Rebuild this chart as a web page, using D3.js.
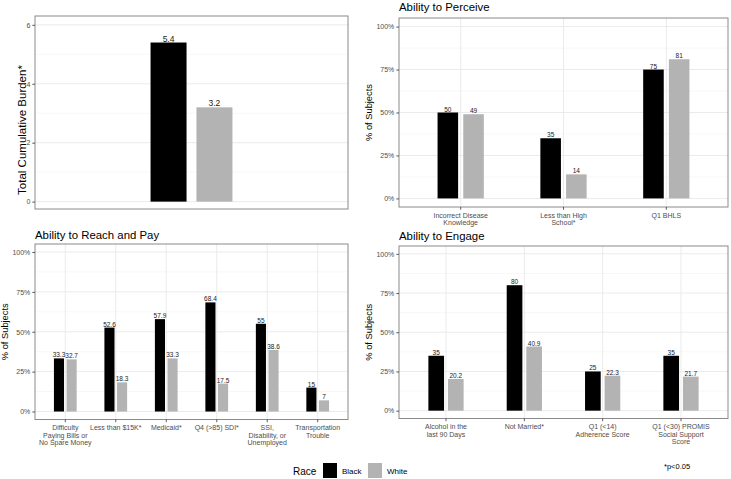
<!DOCTYPE html>
<html><head><meta charset="utf-8">
<script src="https://cdn.jsdelivr.net/npm/d3@7"></script>
<style>body{margin:0;background:#fff}svg{display:block;font-family:"Liberation Sans",Arial,sans-serif}</style>
</head><body><svg id="c" width="731" height="479"></svg>
<script>
// ---- data ----
const raceGroups = ["Black", "White"];
const raceColors = ["#000000", "#b3b3b3"];

const burdenCategory = ["Total"];
const burdenBlack = [5.4];
const burdenWhite = [3.2];
const burdenTicks = [0, 2, 4, 6];

const perceiveCategories = ["Incorrect Disease\nKnowledge", "Less than High\nSchool*", "Q1 BHLS"];
const perceiveBlack = [50, 35, 75];
const perceiveWhite = [49, 14, 81];

const reachCategories = ["Difficulty\nPaying Bills or\nNo Spare Money", "Less than $15K*", "Medicaid*", "Q4 (>85) SDI*", "SSI,\nDisability, or\nUnemployed", "Transportation\nTrouble"];
const reachBlack = [33.3, 52.6, 57.9, 68.4, 55, 15];
const reachWhite = [32.7, 18.3, 33.3, 17.5, 38.6, 7];

const engageCategories = ["Alcohol in the\nlast 90 Days", "Not Married*", "Q1 (<14)\nAdherence Score", "Q1 (<30) PROMIS\nSocial Support\nScore"];
const engageBlack = [35, 80, 25, 35];
const engageWhite = [20.2, 40.9, 22.3, 21.7];

const pctTicks = [0, 25, 50, 75, 100];
const pctMinor = [12.5, 37.5, 62.5, 87.5];
const burdenMinor = [1, 3, 5];

const svg = d3.select("#c");
const color = d3.scaleOrdinal().domain(raceGroups).range(raceColors);

function panel(o) {
  const g = svg.append("g");
  const x = d3.scaleBand().domain(o.cats).range([o.left, o.right]).paddingInner(0).paddingOuter(0.1);
  const y = d3.scaleLinear().domain(o.ydom).range([o.bottom, o.top]);
  const step = x.step();
  // grid
  g.selectAll(".mn").data(o.minor).join("line")
    .attr("x1", o.left).attr("x2", o.right).attr("y1", d => y(d)).attr("y2", d => y(d))
    .attr("stroke", "#f2f2f2").attr("stroke-width", 0.6);
  g.selectAll(".mj").data(o.ticks).join("line")
    .attr("x1", o.left).attr("x2", o.right).attr("y1", d => y(d)).attr("y2", d => y(d))
    .attr("stroke", "#ebebeb").attr("stroke-width", 1);
  if (o.vgrid) {
    g.selectAll(".vg").data(o.cats).join("line")
      .attr("x1", d => x(d) + x.bandwidth() / 2).attr("x2", d => x(d) + x.bandwidth() / 2)
      .attr("y1", o.top).attr("y2", o.bottom).attr("stroke", "#ebebeb").attr("stroke-width", 1);
  }
  // bars
  const rows = [];
  o.cats.forEach((c, i) => {
    rows.push({c, race: "Black", v: o.black[i], k: -1});
    rows.push({c, race: "White", v: o.white[i], k: 1});
  });
  const bw = o.bwFrac * step;
  const cx = d => x(d.c) + x.bandwidth() / 2 + d.k * o.offFrac * step;
  g.selectAll(".bar").data(rows).join("rect")
    .attr("x", d => cx(d) - bw / 2).attr("width", bw)
    .attr("y", d => y(d.v)).attr("height", d => y(0) - y(d.v))
    .attr("fill", d => color(d.race));
  g.selectAll(".lbl").data(rows).join("text")
    .attr("x", d => cx(d)).attr("y", d => y(d.v) - 1)
    .attr("text-anchor", "middle").attr("font-size", o.labSize).attr("fill", "#1a1a1a")
    .text(d => String(d.v));
  // border
  g.append("rect").attr("x", o.left).attr("y", o.top).attr("width", o.right - o.left).attr("height", o.bottom - o.top)
    .attr("fill", "none").attr("stroke", "#8a8a8a").attr("stroke-width", 1);
  // y axis
  const ya = g.append("g").attr("transform", `translate(${o.left},0)`)
    .call(d3.axisLeft(y).tickValues(o.ticks).tickSize(2.7).tickPadding(2).tickFormat(o.fmt));
  ya.select(".domain").remove();
  ya.selectAll(".tick line").attr("stroke", "#333").attr("stroke-width", 0.8);
  ya.selectAll(".tick text").attr("fill", "#4d4d4d").attr("font-size", 7).attr("font-family", "Liberation Sans, Arial, sans-serif");
  // x axis
  if (o.xlabels) {
    const xt = g.selectAll(".xt").data(o.cats).join("g");
    xt.append("line")
      .attr("x1", d => x(d) + x.bandwidth() / 2).attr("x2", d => x(d) + x.bandwidth() / 2)
      .attr("y1", o.bottom).attr("y2", o.bottom + 2.7).attr("stroke", "#333").attr("stroke-width", 0.8);
    const t = xt.append("text").attr("text-anchor", "middle").attr("font-size", 7).attr("fill", "#4d4d4d");
    t.each(function(d) {
      const lines = d.split("\n");
      d3.select(this).selectAll("tspan").data(lines).join("tspan")
        .attr("x", x(d) + x.bandwidth() / 2).attr("y", (l, j) => o.bottom + 10.8 + j * 7.4).text(l => l);
    });
  }
  // y title
  g.append("text").attr("transform", `translate(${o.ytx},${o.yty})`).attr("transform", `translate(${o.ytx},${o.yty != null ? o.yty : (o.top + o.bottom) / 2}) rotate(-90)`)
    .attr("text-anchor", "middle").attr("dominant-baseline", "central")
    .attr("font-size", o.ytSize).attr("fill", "#000").text(o.ytitle);
  if (o.title) {
    g.append("text").attr("x", o.left).attr("y", o.titleY).attr("font-size", 11.4).attr("fill", "#000").text(o.title);
  }
}

const pctFmt = d => d + "%";

panel({cats: burdenCategory, black: burdenBlack, white: burdenWhite, left: 35, right: 348, top: 16, bottom: 209,
  ydom: [-0.25, 6.3], ticks: burdenTicks, minor: burdenMinor, fmt: d => d, vgrid: false, xlabels: false,
  bwFrac: 0.138, offFrac: 0.088, labSize: 8.5, ytitle: "Total Cumulative Burden*", ytx: 21.5, yty: 130, ytSize: 11.5});

panel({cats: perceiveCategories, black: perceiveBlack, white: perceiveWhite, left: 399, right: 728, top: 18, bottom: 207,
  ydom: [-5, 105], ticks: pctTicks, minor: pctMinor, fmt: pctFmt, vgrid: true, xlabels: true,
  bwFrac: 0.2, offFrac: 0.125, labSize: 6.5, ytitle: "% of Subjects", ytx: 369, ytSize: 9.3,
  title: "Ability to Perceive", titleY: 11});

panel({cats: reachCategories, black: reachBlack, white: reachWhite, left: 35, right: 348, top: 244, bottom: 419.5,
  ydom: [-5, 105], ticks: pctTicks, minor: pctMinor, fmt: pctFmt, vgrid: true, xlabels: true,
  bwFrac: 0.2, offFrac: 0.125, labSize: 6.5, ytitle: "% of Subjects", ytx: 5, ytSize: 9.3,
  title: "Ability to Reach and Pay", titleY: 238.5});

panel({cats: engageCategories, black: engageBlack, white: engageWhite, left: 399, right: 728, top: 246, bottom: 418.5,
  ydom: [-5, 105], ticks: pctTicks, minor: pctMinor, fmt: pctFmt, vgrid: true, xlabels: true,
  bwFrac: 0.2, offFrac: 0.125, labSize: 6.5, ytitle: "% of Subjects", ytx: 369, ytSize: 9.3,
  title: "Ability to Engage", titleY: 239.5});

// legend
const lg = svg.append("g");
lg.append("text").attr("x", 293).attr("y", 474.5).attr("font-size", 10).attr("fill", "#000").text("Race");
const lx = d3.scalePoint().domain(raceGroups).range([323, 368]);
const items = lg.selectAll(".li").data(raceGroups).join("g").attr("transform", d => `translate(${lx(d)},463)`);
items.append("rect").attr("width", 14).attr("height", 15).attr("fill", d => color(d));
items.append("text").attr("x", 19).attr("y", 10.5).attr("font-size", 8).attr("fill", "#000").text(d => d);

svg.append("text").attr("x", 664).attr("y", 468.5).attr("font-size", 7.5).attr("fill", "#000").text("*p<0.05");
</script></body></html>
